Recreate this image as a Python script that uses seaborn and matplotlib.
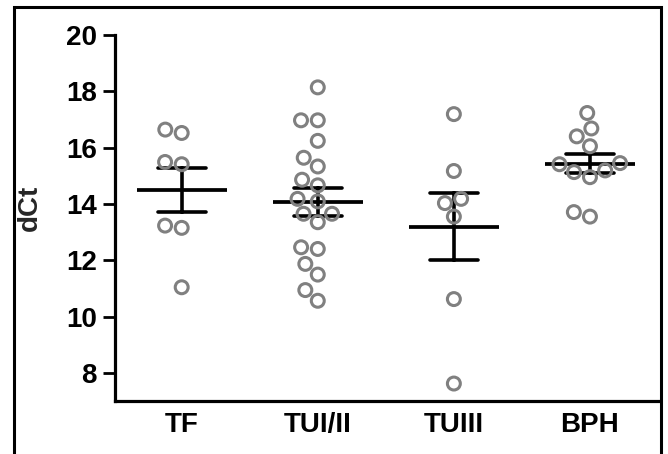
import numpy as np
import pandas as pd
import seaborn as sns
import matplotlib
matplotlib.use("Agg")
import matplotlib.pyplot as plt
from matplotlib.patches import Rectangle

# ---- data ----
groups = ["TF", "TUI/II", "TUIII", "BPH"]
tf = [16.64, 16.52, 15.49, 15.41, 13.23, 13.15, 11.04]
tui_ii = [18.14, 16.97, 16.97, 16.24, 15.64, 15.33, 14.86, 14.66, 14.18, 14.09,
          13.65, 13.65, 13.35, 12.46, 12.40, 11.87, 11.49, 10.94, 10.56]
tuiii = [17.19, 15.17, 14.18, 14.03, 13.55, 10.62, 7.62]
bph = [17.23, 16.68, 16.40, 16.05, 15.45, 15.41, 15.19, 15.13, 14.95, 13.71, 13.55]
y_ticks = [8, 10, 12, 14, 16, 18, 20]
y_label = "dCt"

values = [tf, tui_ii, tuiii, bph]
df = pd.DataFrame({
    "group": np.concatenate([[g] * len(v) for g, v in zip(groups, values)]),
    "dCt": np.concatenate(values),
})

sns.set_theme(style="ticks")
plt.rcParams["font.family"] = ["Liberation Sans", "DejaVu Sans"]
plt.rcParams["font.weight"] = "bold"

W, H = 668, 454
fig = plt.figure(figsize=(W / 100, H / 100), dpi=100)
ax = fig.add_axes([115 / W, 1 - 401 / H, (658 - 115) / W, (401 - 35) / H])

sns.swarmplot(data=df, x="group", y="dCt", order=groups, ax=ax,
              size=9.3, color="#808080", linewidth=2.2, edgecolor="#808080")
for coll in ax.collections:
    coll.set_facecolor("none")
    coll.set_edgecolor("#808080")
    coll.set_linewidth(2.2)

sns.pointplot(data=df, x="group", y="dCt", order=groups, ax=ax,
              errorbar="se", capsize=0.35, color="black", linestyle="none",
              marker="_", markersize=65, markeredgewidth=2.7,
              err_kws={"linewidth": 2.6})

ax.set_ylim(7, 20)
ax.set_xlim(-0.49, 3.5)
ax.set_yticks(y_ticks)
ax.set_yticklabels([str(t) for t in y_ticks])
ax.set_xlabel("")
ax.set_ylabel(y_label, fontsize=20, fontweight="bold", va="center")
ax.yaxis.set_label_coords((30 - 115) / 543, (401 - 208) / 366)

for s in ["top", "right"]:
    ax.spines[s].set_visible(False)
for s in ["left", "bottom"]:
    ax.spines[s].set_linewidth(2.3)
    ax.spines[s].set_color("black")

ax.tick_params(axis="y", length=9, width=2.0, pad=4, labelsize=20, colors="black")
ax.tick_params(axis="x", length=0, pad=8, labelsize=20, colors="black")
for lab in ax.get_xticklabels() + ax.get_yticklabels():
    lab.set_fontweight("bold")

fig.add_artist(Rectangle((14 / W, -0.1), (660.5 - 14) / W, (1 - 7 / H) + 0.1,
                         transform=fig.transFigure, fill=False, lw=2.2,
                         ec="black"))

fig.savefig("out.png", dpi=100)
